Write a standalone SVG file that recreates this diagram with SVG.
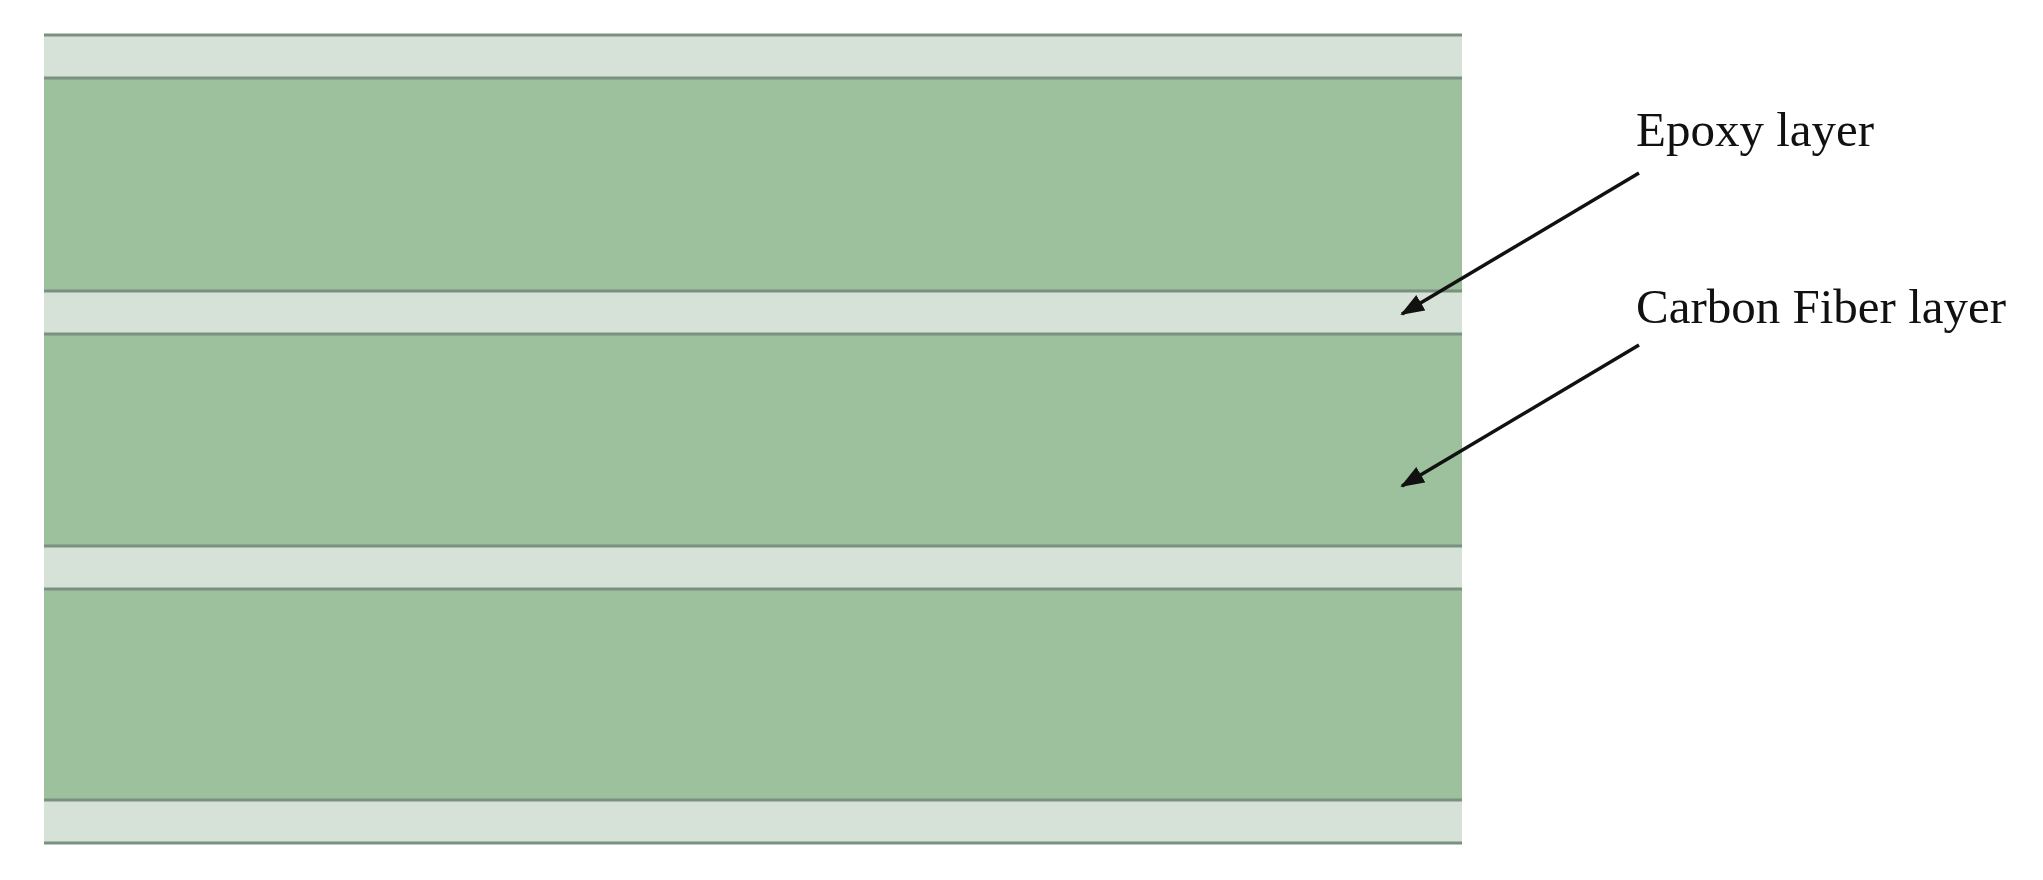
<svg xmlns="http://www.w3.org/2000/svg" width="2043" height="880" viewBox="0 0 2043 880">
<style>
.ep{fill:#d6e2d7}
.cf{fill:#9dc19c}
.ln{stroke:#7a9080;stroke-width:3}
.lbl{font-family:"Liberation Serif",serif;font-size:49px;fill:#111}
.ar{stroke:#111;stroke-width:3.5;fill:none}
</style>
<defs>
<marker id="a2" markerWidth="24" markerHeight="18" refX="22" refY="9" orient="auto" markerUnits="userSpaceOnUse"><path d="M0,0L24,9L0,18z" fill="#111"/></marker></defs>
<rect width="2043" height="880" fill="#fff"/>
<g id="layers">
<rect class="ep" x="44" y="35" width="1418" height="43"/>
<rect class="cf" x="44" y="78" width="1418" height="213"/>
<rect class="ep" x="44" y="291" width="1418" height="43"/>
<rect class="cf" x="44" y="334" width="1418" height="212"/>
<rect class="ep" x="44" y="546" width="1418" height="43"/>
<rect class="cf" x="44" y="589" width="1418" height="211"/>
<rect class="ep" x="44" y="800" width="1418" height="43"/>
<g class="ln">
<line x1="44" y1="35" x2="1462" y2="35"/><line x1="44" y1="78" x2="1462" y2="78"/>
<line x1="44" y1="291" x2="1462" y2="291"/><line x1="44" y1="334" x2="1462" y2="334"/>
<line x1="44" y1="546" x2="1462" y2="546"/><line x1="44" y1="589" x2="1462" y2="589"/>
<line x1="44" y1="800" x2="1462" y2="800"/><line x1="44" y1="843" x2="1462" y2="843"/>
</g>
</g>
<g id="label-epoxy"><text class="lbl" x="1636" y="146">Epoxy layer</text></g>
<g id="label-carbon"><text class="lbl" x="1636" y="323">Carbon Fiber layer</text></g>
<g id="connectors">
<line class="ar" x1="1639" y1="173" x2="1402" y2="314" marker-end="url(#a2)"/>
<line class="ar" x1="1639" y1="345" x2="1402" y2="486" marker-end="url(#a2)"/>
</g>
</svg>
